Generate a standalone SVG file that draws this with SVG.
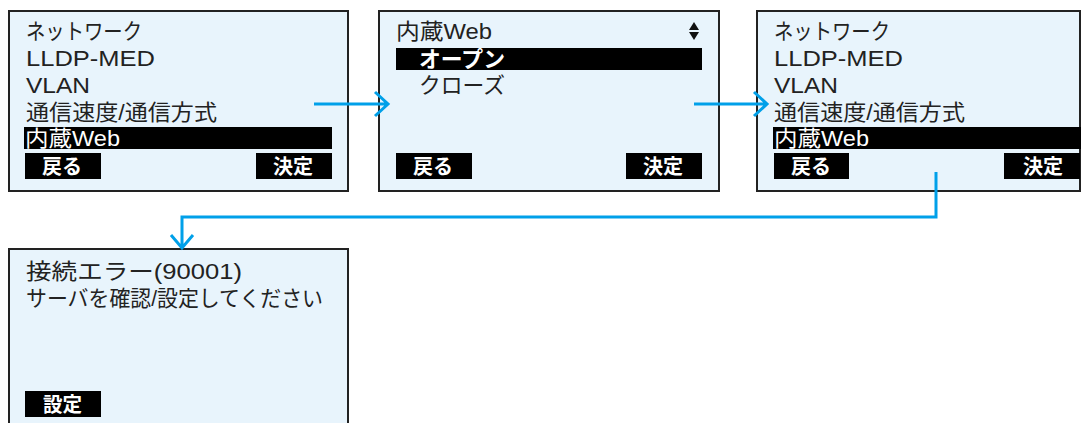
<svg xmlns="http://www.w3.org/2000/svg" width="1083" height="423" viewBox="0 0 1083 423">
<style>
.scr{fill:#e8f4fc;stroke:#222;stroke-width:2}
.t{font-family:"Liberation Sans","Noto Sans CJK JP",sans-serif;font-size:22px;fill:#222}
.w{font-family:"Liberation Sans","Noto Sans CJK JP",sans-serif;font-size:22px;fill:#fff}
.b{font-family:"Liberation Sans","Noto Sans CJK JP",sans-serif;font-size:20px;font-weight:bold;fill:#fff}
.bar{fill:#000}
.ln{fill:none;stroke:#00a0e9;stroke-width:3}
</style>
<rect width="1083" height="423" fill="#fff"/>
<g id="screen1">
<rect class="scr" x="9" y="11" width="339" height="180"/>
<text class="t" x="26" y="39" textLength="116" lengthAdjust="spacingAndGlyphs">ネットワーク</text>
<text class="t" x="26" y="66" textLength="129" lengthAdjust="spacingAndGlyphs">LLDP-MED</text>
<text class="t" x="26" y="93" textLength="64" lengthAdjust="spacingAndGlyphs">VLAN</text>
<text class="t" x="26" y="120" textLength="191" lengthAdjust="spacingAndGlyphs">通信速度/通信方式</text>
<rect class="bar" x="24" y="127" width="308" height="22"/>
<text class="w" x="25" y="146" textLength="95" lengthAdjust="spacingAndGlyphs">内蔵Web</text>
<rect class="bar" x="25" y="153" width="76" height="26"/>
<text class="b" x="42" y="174" textLength="40" lengthAdjust="spacingAndGlyphs">戻る</text>
<rect class="bar" x="256" y="153" width="76" height="26"/>
<text class="b" x="273" y="174" textLength="40" lengthAdjust="spacingAndGlyphs">決定</text>
</g>
<g id="screen2">
<rect class="scr" x="379" y="11" width="340" height="180"/>
<text class="t" x="396" y="39" textLength="96" lengthAdjust="spacingAndGlyphs">内蔵Web</text>
<path d="M689 30 L699 30 L694 22 Z M689 32 L699 32 L694 40 Z" fill="#111"/>
<rect class="bar" x="396" y="48" width="306" height="22"/>
<text class="b" x="419" y="67" style="font-size:22px" textLength="86" lengthAdjust="spacingAndGlyphs">オープン</text>
<text class="t" x="419" y="93" textLength="86" lengthAdjust="spacingAndGlyphs">クローズ</text>
<rect class="bar" x="396" y="153" width="76" height="26"/>
<text class="b" x="413" y="174" textLength="40" lengthAdjust="spacingAndGlyphs">戻る</text>
<rect class="bar" x="626" y="153" width="76" height="26"/>
<text class="b" x="643" y="174" textLength="40" lengthAdjust="spacingAndGlyphs">決定</text>
</g>
<g id="screen3">
<rect class="scr" x="757" y="11" width="323" height="180"/>
<text class="t" x="774" y="39" textLength="116" lengthAdjust="spacingAndGlyphs">ネットワーク</text>
<text class="t" x="774" y="66" textLength="129" lengthAdjust="spacingAndGlyphs">LLDP-MED</text>
<text class="t" x="774" y="93" textLength="64" lengthAdjust="spacingAndGlyphs">VLAN</text>
<text class="t" x="774" y="120" textLength="191" lengthAdjust="spacingAndGlyphs">通信速度/通信方式</text>
<rect class="bar" x="773" y="127" width="308" height="22"/>
<text class="w" x="774" y="146" textLength="95" lengthAdjust="spacingAndGlyphs">内蔵Web</text>
<rect class="bar" x="774" y="153" width="75" height="26"/>
<text class="b" x="791" y="174" textLength="40" lengthAdjust="spacingAndGlyphs">戻る</text>
<rect class="bar" x="1004" y="153" width="76" height="26"/>
<text class="b" x="1023" y="174" textLength="40" lengthAdjust="spacingAndGlyphs">決定</text>
</g>
<g id="screen4">
<rect class="scr" x="9" y="249" width="339" height="200"/>
<text class="t" x="26" y="279" textLength="216" lengthAdjust="spacingAndGlyphs">接続エラー(90001)</text>
<text class="t" x="26" y="306" textLength="297" lengthAdjust="spacingAndGlyphs">サーバを確認/設定してください</text>
<rect class="bar" x="25" y="391" width="76" height="26"/>
<text class="b" x="43" y="412" textLength="39" lengthAdjust="spacingAndGlyphs">設定</text>
</g>
<g id="connectors">
<path class="ln" d="M314 104 H388 M375 92 L388 104 L375 116"/>
<path class="ln" d="M694 104 H767 M754 92 L767 104 L754 116"/>
<path class="ln" d="M936 172 V217 H182 V248 M171 235 L182 248 L193 235"/>
</g>
</svg>
